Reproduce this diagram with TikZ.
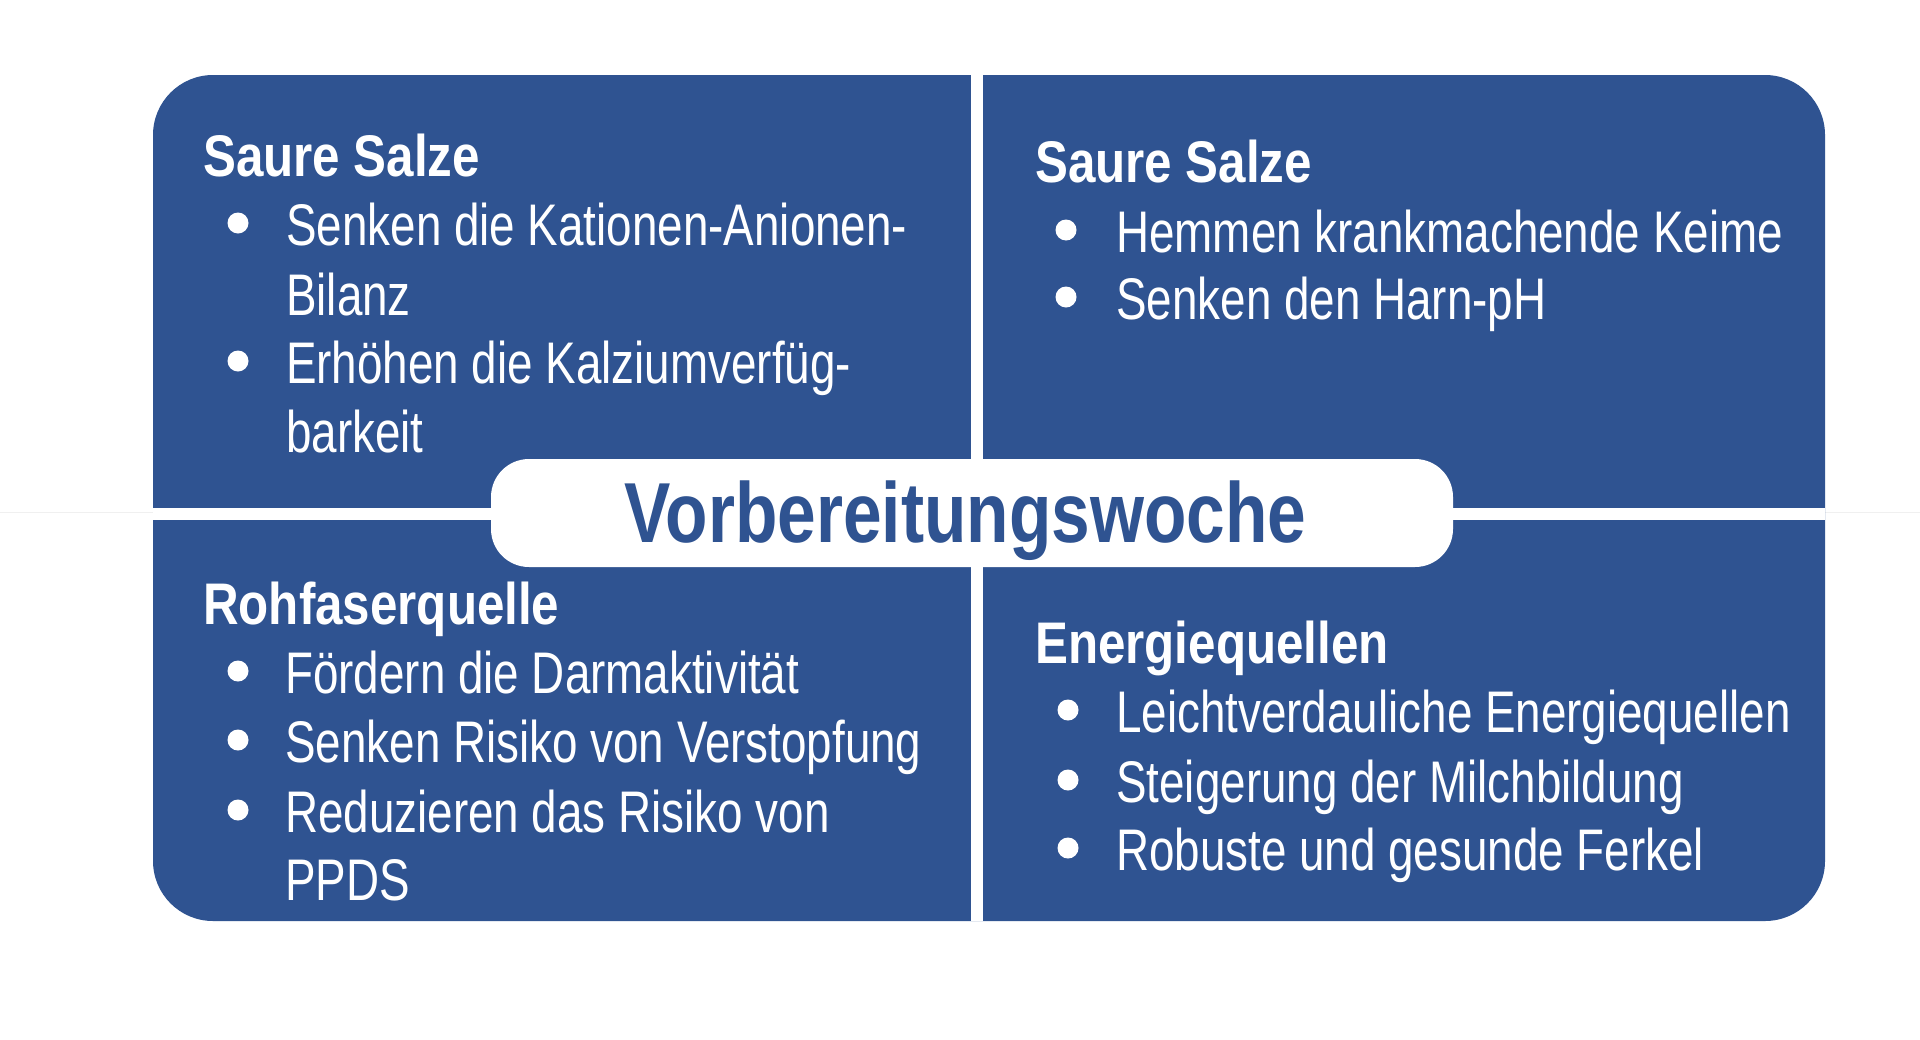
\documentclass[tikz,border=0pt]{standalone}
\usepackage{fontspec}
\setmainfont{Liberation Sans}[FakeStretch=0.78]
\newfontfamily\hdfont{Liberation Sans}[FakeStretch=0.84]
\newfontfamily\ttlfont{Liberation Sans}[FakeStretch=0.815]
\definecolor{sblue}{HTML}{2F5391}
\begin{document}
\begin{tikzpicture}[x=1pt,y=-1pt,
  panelbox/.style={fill=sblue, rounded corners=60pt, inner sep=0pt, minimum width=1672pt, minimum height=846pt},
  pillbox/.style={fill=white, rounded corners=38pt, inner sep=0pt, minimum width=962pt, minimum height=108pt},
  hd/.style={anchor=base west, inner sep=0pt, text=white, font=\hdfont\bfseries\fontsize{58.7}{69}\selectfont},
  tx/.style={anchor=base west, inner sep=0pt, text=white, font=\fontsize{58.7}{69}\selectfont},
  bul/.style={circle, fill=white, inner sep=0pt, minimum size=21pt},
  title/.style={anchor=base, inner sep=0pt, text=sblue, font=\ttlfont\bfseries\fontsize{85.2}{100}\selectfont}]
\useasboundingbox (0,0) rectangle (1920,1039);
\fill[white] (0,0) rectangle (1920,1039);
\draw[line width=1pt, black!6] (0,512) -- (1920,512);
\node[panelbox] (panel) at (989,498) {};
\fill[white] (971,75) rectangle (983,921);
\fill[white] (153,508) rectangle (1825,520);
\node[pillbox] (pill) at (972,513) {};
\node[title] (titletext) at (965.5,542) {Vorbereitungswoche};
% top left
\node[hd] (tlh) at (203,176) {Saure Salze};
\node[bul] (tlb1) at (238,223) {};
\node[tx] (tl1) at (286,245) {Senken die Kationen-Anionen-};
\node[tx] (tl2) at (286,315) {Bilanz};
\node[bul] (tlb2) at (238,361) {};
\node[tx] (tl3) at (286,383) {Erhöhen die Kalziumverfüg-};
\node[tx] (tl4) at (286,452) {barkeit};
% top right
\node[hd] (trh) at (1035,182) {Saure Salze};
\node[bul] (trb1) at (1066,230) {};
\node[tx] (tr1) at (1116,252) {Hemmen krankmachende Keime};
\node[bul] (trb2) at (1066,297) {};
\node[tx] (tr2) at (1116,319) {Senken den Harn-pH};
% bottom left
\node[hd] (blh) at (203,624) {Rohfaserquelle};
\node[bul] (blb1) at (238,671) {};
\node[tx] (bl1) at (285,693) {Fördern die Darmaktivität};
\node[bul] (blb2) at (238,740) {};
\node[tx] (bl2) at (285,762) {Senken Risiko von Verstopfung};
\node[bul] (blb3) at (238,810) {};
\node[tx] (bl3) at (285,832) {Reduzieren das Risiko von};
\node[tx] (bl4) at (285,900) {PPDS};
% bottom right
\node[hd] (brh) at (1035,663) {Energiequellen};
\node[bul] (brb1) at (1068,710) {};
\node[tx] (br1) at (1116,732) {Leichtverdauliche Energiequellen};
\node[bul] (brb2) at (1068,780) {};
\node[tx] (br2) at (1116,802) {Steigerung der Milchbildung};
\node[bul] (brb3) at (1068,848) {};
\node[tx] (br3) at (1116,870) {Robuste und gesunde Ferkel};
\end{tikzpicture}
\end{document}
